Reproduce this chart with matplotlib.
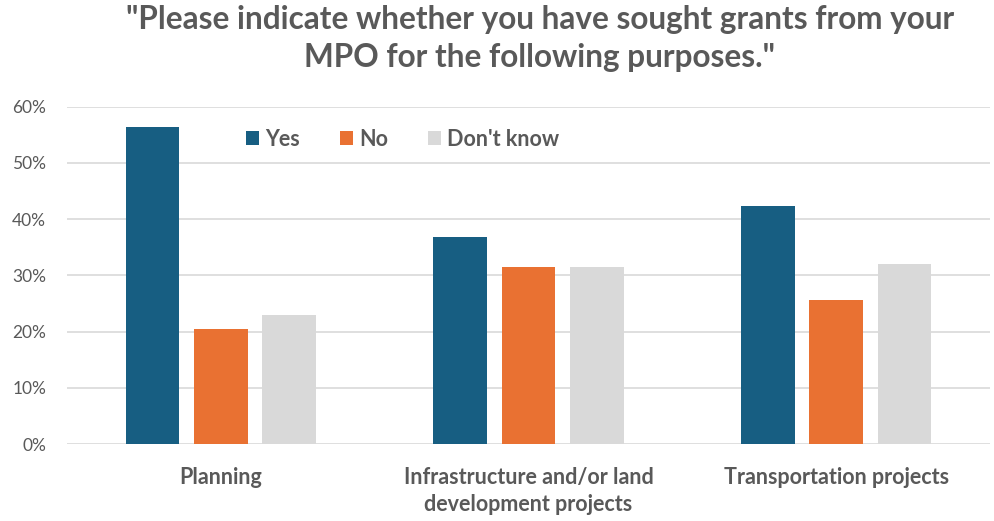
import numpy as np
import matplotlib
matplotlib.use("Agg")
from matplotlib import pyplot as plt
from matplotlib.patches import Patch
from matplotlib.ticker import PercentFormatter

categories = ["Planning", "Infrastructure and/or land\ndevelopment projects", "Transportation projects"]
series_names = ["Yes", "No", "Don't know"]
yes_vals = [56.3, 36.8, 42.3]
no_vals = [20.4, 31.5, 25.6]
dont_know_vals = [22.9, 31.5, 32.0]
y_ticks = [0, 10, 20, 30, 40, 50, 60]

colors = ["#175E82", "#E97132", "#D9D9D9"]
grey = "#595959"

plt.rcParams['font.family'] = ['Lato', 'DejaVu Sans']

fig = plt.figure(figsize=(9.94, 5.21), dpi=100)
ax = fig.add_axes([67 / 994, 1 - 444.3 / 521, 923 / 994, (444.3 - 106.5) / 521])

x = np.arange(len(categories))
width = 0.175
step = 0.222
for i, (vals, name) in enumerate(zip([yes_vals, no_vals, dont_know_vals], series_names)):
    ax.bar(x + (i - 1) * step, vals, width, color=colors[i], label=name, zorder=3)

ax.set_xlim(-0.5, 2.5)
ax.set_ylim(0, 60)
ax.set_yticks(y_ticks)
ax.yaxis.set_major_formatter(PercentFormatter(decimals=0))
ax.set_xticks(x)
ax.set_xticklabels(categories, fontweight="bold", fontsize=15.5, color=grey, linespacing=1.4)
ax.tick_params(axis="x", length=0, pad=16)
ax.tick_params(axis="y", length=0, pad=15, labelsize=12.5, labelcolor=grey)
for lbl in ax.get_xticklabels():
    lbl.set_verticalalignment("top")

ax.grid(axis="y", color="#D9D9D9", linewidth=1.2, zorder=0)
for s in ax.spines.values():
    s.set_visible(False)

fig.text(540 / 994, 1 - 20 / 521, "\"Please indicate whether you have sought grants from your",
         ha="center", va="center", fontsize=22.7, fontweight="bold", color=grey)
fig.text(540 / 994, 1 - 58 / 521, "MPO for the following purposes.\"",
         ha="center", va="center", fontsize=22.7, fontweight="bold", color=grey)

handles = [Patch(facecolor=c, edgecolor="none") for c in colors]
fig.legend(handles, series_names, loc="center left", bbox_to_anchor=(235 / 994, 1 - 139 / 521),
           ncol=3, frameon=False, borderpad=0, handlelength=0.6, handleheight=0.6,
           handletextpad=0.3, columnspacing=1.85,
           prop={"weight": "bold", "size": 15.5}, labelcolor=grey)

fig.savefig("out.png", dpi=100, facecolor="white")
